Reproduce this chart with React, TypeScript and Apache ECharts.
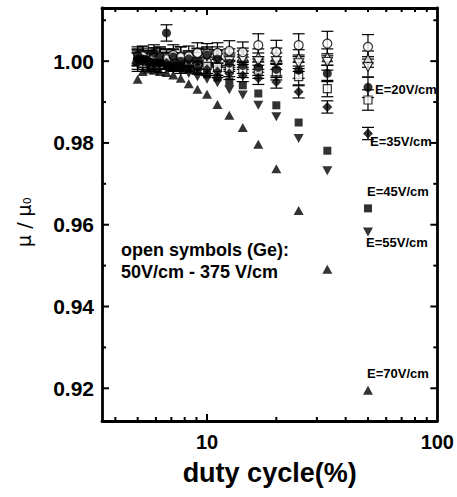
import React, { useEffect, useRef } from 'react';
import * as echarts from 'echarts';

// duty cycles (%) = 100 / n
const duty = [5, 5.26, 5.56, 5.88, 6.25, 6.67, 7.14, 7.69, 8.33, 9.09, 10, 11.1, 12.5, 14.3, 16.7, 20, 25, 33.3, 50];

// filled symbols at different fields
const e70 = [0.9956, 0.9975, 0.998, 0.9978, 0.9975, 0.9972, 0.9966, 0.9958, 0.9945, 0.9931, 0.9919, 0.9894, 0.9868, 0.9838, 0.9797, 0.9737, 0.9635, 0.9491, 0.9195];
const e55 = [0.9995, 1.0, 0.9995, 0.999, 0.9992, 0.9985, 0.998, 0.9975, 0.997, 0.9962, 0.9956, 0.9947, 0.993, 0.9917, 0.9892, 0.9864, 0.9811, 0.9732, 0.9582];
const e45 = [1.0, 1.0005, 0.9998, 0.9995, 0.9996, 0.999, 0.9988, 0.9985, 0.998, 0.9975, 0.9968, 0.996, 0.995, 0.9941, 0.9921, 0.9892, 0.985, 0.9781, 0.964];
const e35 = [1.0005, 1.0, 1.0002, 0.9998, 0.9995, 0.9996, 0.9992, 0.999, 0.9988, 0.9985, 0.998, 0.9975, 0.997, 0.9965, 0.9958, 0.9949, 0.9925, 0.9888, 0.9823];
const e20 = [1.0015, 1.0005, 1.0, 1.002, 1.001, 1.0069, 1.001, 1.0, 1.0005, 1.0, 1.0015, 1.0005, 0.9995, 0.999, 0.9985, 0.998, 0.9978, 0.997, 0.9936];
const e20Err = [0.002, 0.002, 0.002, 0.002, 0.002, 0.002, 0.002, 0.002, 0.002, 0.002, 0.002, 0.002, 0.002, 0.002, 0.002, 0.002, 0.002, 0.002, 0.0025];
const e35Err = [0.0015, 0.0015, 0.0015, 0.0015, 0.0015, 0.0015, 0.0015, 0.0015, 0.0015, 0.0015, 0.0015, 0.0015, 0.0015, 0.0015, 0.0015, 0.0015, 0.0015, 0.0015, 0.0015];

// open symbols (Ge)
const openCircle = [1.0, 1.0012, 1.0, 1.0008, 1.001, 1.0005, 1.0015, 1.001, 1.0012, 1.002, 1.0018, 1.002, 1.0025, 1.0022, 1.0039, 1.0023, 1.0039, 1.0043, 1.0035];
const openCircleErr = [0.0025, 0.0025, 0.0025, 0.0025, 0.0025, 0.0025, 0.0025, 0.0025, 0.0025, 0.0025, 0.0025, 0.0025, 0.0025, 0.0025, 0.0028, 0.0028, 0.0028, 0.003, 0.003];
const openDownTri = [1.001, 1.0, 0.9995, 1.0005, 1.0, 1.0008, 1.0, 0.9995, 1.0005, 1.001, 1.0012, 1.0008, 1.0, 1.0005, 1.0, 1.0, 0.9995, 0.9998, 0.9986];
const openDownTriErr = [0.002, 0.002, 0.002, 0.002, 0.002, 0.002, 0.002, 0.002, 0.002, 0.002, 0.002, 0.002, 0.002, 0.002, 0.002, 0.002, 0.002, 0.002, 0.0025];
const openSquare = [1.0, 0.9995, 1.0005, 0.9998, 0.9992, 1.0, 0.9995, 0.999, 0.9995, 0.9988, 0.999, 0.9985, 0.9982, 0.998, 0.9978, 0.9974, 0.9962, 0.9933, 0.9905];
const openSquareErr = [0.002, 0.002, 0.002, 0.002, 0.002, 0.002, 0.002, 0.002, 0.002, 0.002, 0.002, 0.002, 0.002, 0.002, 0.002, 0.002, 0.002, 0.002, 0.0025];
const openUpTri = [1.0008, 1.0015, 1.001, 0.9995, 1.0012, 1.0002, 1.0008, 1.0015, 1.0, 1.0012, 1.0008, 1.0015, 1.001, 1.0012, 1.001, 1.0012, 1.0008, 1.001, 1.0005];
const openUpTriErr = [0.002, 0.002, 0.002, 0.002, 0.002, 0.002, 0.002, 0.002, 0.002, 0.002, 0.002, 0.002, 0.002, 0.002, 0.002, 0.002, 0.002, 0.002, 0.002];

// axis ticks
const xMajorTicks = [10];
const xMinorTicks = [4, 5, 6, 7, 8, 9, 20, 30, 40, 50, 60, 70, 80, 90];
const yMajorTicks = [0.92, 0.94, 0.96, 0.98, 1.0];
const yMinorTicks = [0.93, 0.95, 0.97, 0.99, 1.01];

const xMin = 3.5;
const xMax = 100;
const yMin = 0.912;
const yMax = 1.013;

const FONT = 'Liberation Sans, Arial, Helvetica, sans-serif';

function pairs(vals: number[]) {
  return duty.map((d, i) => [d, vals[i]]);
}
function errData(vals: number[], err: number[]) {
  return duty.map((d, i) => [d, vals[i] - err[i], vals[i] + err[i]]);
}

function errorSeries(vals: number[], err: number[]) {
  return {
    type: 'custom',
    silent: true,
    z: 1,
    encode: { x: 0, y: [1, 2] },
    data: errData(vals, err),
    renderItem: (params: any, api: any) => {
      const x = api.value(0);
      const lo = api.coord([x, api.value(1)]);
      const hi = api.coord([x, api.value(2)]);
      const hw = 6;
      const st = { stroke: '#000', lineWidth: 1.2 };
      return {
        type: 'group',
        children: [
          { type: 'line', shape: { x1: lo[0], y1: lo[1], x2: hi[0], y2: hi[1] }, style: st },
          { type: 'line', shape: { x1: lo[0] - hw, y1: lo[1], x2: lo[0] + hw, y2: lo[1] }, style: st },
          { type: 'line', shape: { x1: hi[0] - hw, y1: hi[1], x2: hi[0] + hw, y2: hi[1] }, style: st },
        ],
      };
    },
  };
}

// x ticks: data [x, yBottom, yTop]; drawn inward from bottom and top axes
function xTickSeries(ticks: number[], len: number) {
  return {
    type: 'custom',
    silent: true,
    z: 6,
    encode: { x: 0, y: [1, 2] },
    data: ticks.map((v) => [v, yMin, yMax]),
    renderItem: (params: any, api: any) => {
      const x = api.value(0);
      const b = api.coord([x, api.value(1)]);
      const t = api.coord([x, api.value(2)]);
      const st = { stroke: '#000', lineWidth: 2 };
      return {
        type: 'group',
        children: [
          { type: 'line', shape: { x1: b[0], y1: b[1], x2: b[0], y2: b[1] - len }, style: st },
          { type: 'line', shape: { x1: t[0], y1: t[1], x2: t[0], y2: t[1] + len }, style: st },
        ],
      };
    },
  };
}

// y ticks: data [xLeft, xRight, y]; drawn inward from left and right axes
function yTickSeries(ticks: number[], len: number) {
  return {
    type: 'custom',
    silent: true,
    z: 6,
    encode: { x: [0, 1], y: 2 },
    data: ticks.map((v) => [xMin, xMax, v]),
    renderItem: (params: any, api: any) => {
      const y = api.value(2);
      const l = api.coord([api.value(0), y]);
      const r = api.coord([api.value(1), y]);
      const st = { stroke: '#000', lineWidth: 2 };
      return {
        type: 'group',
        children: [
          { type: 'line', shape: { x1: l[0], y1: l[1], x2: l[0] + len, y2: l[1] }, style: st },
          { type: 'line', shape: { x1: r[0], y1: r[1], x2: r[0] - len, y2: r[1] }, style: st },
        ],
      };
    },
  };
}

export default function App() {
  const ref = useRef<HTMLDivElement>(null);
  useEffect(() => {
    if (!ref.current) return;
    const chart = echarts.init(ref.current, undefined, { renderer: 'svg' });

    const axisLine = { show: true, lineStyle: { color: '#000', width: 2.8 } };
    const txt = (x: number, y: number, text: string, size: number) => ({
      type: 'text',
      x,
      y,
      z: 10,
      style: { text, fontSize: size, fontWeight: 'bold', fontFamily: FONT, fill: '#000', verticalAlign: 'middle' },
    });

    const option: any = {
      animation: false,
      textStyle: { fontFamily: FONT },
      grid: { left: 102, right: 19, top: 8, bottom: 76, containLabel: false },
      xAxis: [
        {
          type: 'log',
          logBase: 10,
          min: xMin,
          max: xMax,
          axisLine,
          axisTick: { show: false },
          splitLine: { show: false },
          axisLabel: {
            show: true,
            showMinLabel: false,
            margin: 11,
            color: '#000',
            fontSize: 20,
            fontWeight: 'bold',
            fontFamily: FONT,
            formatter: (v: number) => String(Math.round(v)),
          },
          name: 'duty cycle(%)',
          nameLocation: 'middle',
          nameGap: 38,
          nameTextStyle: { fontSize: 27, fontWeight: 'bold', color: '#000', fontFamily: FONT },
        },
        {
          type: 'log',
          logBase: 10,
          position: 'top',
          min: xMin,
          max: xMax,
          axisLine,
          axisTick: { show: false },
          axisLabel: { show: false },
          splitLine: { show: false },
        },
      ],
      yAxis: [
        {
          type: 'value',
          min: yMin,
          max: yMax,
          axisLine,
          axisTick: { show: false },
          splitLine: { show: false },
          axisLabel: {
            showMinLabel: false,
            showMaxLabel: false,
            margin: 8,
            color: '#000',
            fontSize: 21,
            fontWeight: 'bold',
            fontFamily: FONT,
            formatter: (v: number) => v.toFixed(2),
          },
        },
        {
          type: 'value',
          position: 'right',
          min: yMin,
          max: yMax,
          axisLine,
          axisTick: { show: false },
          axisLabel: { show: false },
          splitLine: { show: false },
        },
      ],
      graphic: [
        {
          type: 'text',
          x: 14,
          y: 247,
          rotation: Math.PI / 2,
          style: {
            text: '{a|μ / μ}{b|0}',
            rich: {
              a: { fontSize: 19, fontFamily: 'DejaVu Sans, sans-serif', fill: '#000', verticalAlign: 'bottom' },
              b: { fontSize: 11, fontFamily: 'DejaVu Sans, sans-serif', fill: '#000', verticalAlign: 'bottom' },
            },
          },
        },
        txt(121, 250, 'open symbols (Ge):', 18),
        txt(121, 272, '50V/cm - 375 V/cm', 18),
        txt(375, 89, 'E=20V/cm', 13),
        txt(370, 141, 'E=35V/cm', 13),
        txt(367, 191, 'E=45V/cm', 13),
        txt(366, 242, 'E=55V/cm', 13),
        txt(367, 373, 'E=70V/cm', 13),
      ],
      series: [
        xTickSeries(xMajorTicks, 7),
        xTickSeries(xMinorTicks, 4),
        yTickSeries(yMajorTicks, 7),
        yTickSeries(yMinorTicks, 4),
        errorSeries(openCircle, openCircleErr),
        errorSeries(openDownTri, openDownTriErr),
        errorSeries(openSquare, openSquareErr),
        errorSeries(openUpTri, openUpTriErr),
        errorSeries(e20, e20Err),
        errorSeries(e35, e35Err),
        { type: 'scatter', name: 'Ge open square', z: 2, data: pairs(openSquare), symbol: 'rect', symbolSize: 8, itemStyle: { color: '#fff', borderColor: '#000', borderWidth: 1.2 } },
        { type: 'scatter', name: 'Ge open up triangle', z: 2, data: pairs(openUpTri), symbol: 'triangle', symbolSize: [10, 9], itemStyle: { color: '#fff', borderColor: '#000', borderWidth: 1.2 } },
        { type: 'scatter', name: 'Ge open down triangle', z: 2, data: pairs(openDownTri), symbol: 'triangle', symbolRotate: 180, symbolSize: [10, 9], itemStyle: { color: '#fff', borderColor: '#000', borderWidth: 1.2 } },
        { type: 'scatter', name: 'Ge open circle', z: 2, data: pairs(openCircle), symbol: 'circle', symbolSize: 9, itemStyle: { color: '#fff', borderColor: '#000', borderWidth: 1.2 } },
        { type: 'scatter', name: 'E=20V/cm', z: 3, data: pairs(e20), symbol: 'circle', symbolSize: 9, itemStyle: { color: '#000' } },
        { type: 'scatter', name: 'E=35V/cm', z: 3, data: pairs(e35), symbol: 'diamond', symbolSize: [10, 10], itemStyle: { color: '#000' } },
        { type: 'scatter', name: 'E=45V/cm', z: 3, data: pairs(e45), symbol: 'rect', symbolSize: 8, itemStyle: { color: '#000' } },
        { type: 'scatter', name: 'E=55V/cm', z: 3, data: pairs(e55), symbol: 'triangle', symbolRotate: 180, symbolSize: [10, 9], itemStyle: { color: '#000' } },
        { type: 'scatter', name: 'E=70V/cm', z: 3, data: pairs(e70), symbol: 'triangle', symbolSize: [10, 9], itemStyle: { color: '#000' } },
      ],
    };
    chart.setOption(option);
    return () => chart.dispose();
  }, []);
  return (
    <div
      ref={ref}
      style={{ position: 'fixed', left: 0, top: 0, width: 457, height: 497, background: '#fff' }}
    />
  );
}
